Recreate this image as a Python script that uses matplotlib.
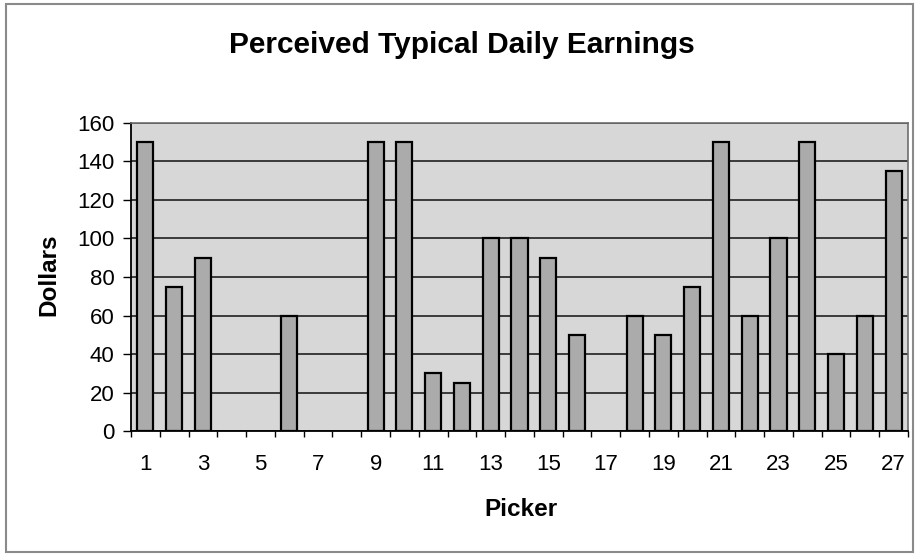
import numpy as np
import matplotlib.pyplot as plt

pickers = list(range(1, 28))
earnings = [150, 75, 90, 0, 0, 60, 0, 0, 150, 150, 30, 25, 100, 100, 90,
            50, 0, 60, 50, 75, 150, 60, 100, 150, 40, 60, 135]
xtick_labels = [str(p) for p in range(1, 28, 2)]


def main():
    plt.rcParams['font.family'] = ['Liberation Sans', 'DejaVu Sans']

    fig = plt.figure(figsize=(9.17, 5.54), dpi=100)
    fig.patch.set_facecolor('white')
    # outer chart border
    fig.add_artist(plt.Rectangle((0.006, 0.004), 0.99, 0.988, transform=fig.transFigure,
                                 fill=False, edgecolor='#8a8a8a', linewidth=1.5))

    ax = fig.add_axes([0.1429, 0.222, 0.8473, 0.556])
    ax.set_facecolor('#d7d7d7')

    # pickers with no answer get no bar at all
    x = np.array(pickers)
    y = np.array(earnings)
    keep = y > 0
    ax.bar(x[keep], y[keep], width=0.56, color='#ababab', edgecolor='black',
           linewidth=1.6, zorder=3)

    ax.set_xlim(0.5, 27.5)
    ax.set_ylim(0, 160)
    ax.set_yticks(range(0, 161, 20))
    ax.yaxis.grid(True, color='#3a3a3a', linewidth=1.4, zorder=1)
    ax.set_axisbelow(True)

    ax.set_xticks(range(1, 28, 2))
    ax.set_xticklabels(xtick_labels)
    ax.set_xticks(np.arange(0.5, 28, 1), minor=True)
    ax.tick_params(axis='x', which='major', length=0, pad=16.5, labelsize=16)
    ax.tick_params(axis='x', which='minor', length=4, width=1, direction='out')
    ax.tick_params(axis='y', length=6, width=1, pad=6, labelsize=16)

    for side in ['left', 'bottom']:
        ax.spines[side].set_color('black')
        ax.spines[side].set_linewidth(1.3)
    for side in ['top', 'right']:
        ax.spines[side].set_color('#6e6e6e')
        ax.spines[side].set_linewidth(1.2)

    ax.set_xlabel('Picker', fontsize=17.5, fontweight='bold')
    ax.xaxis.set_label_coords(0.502, -0.219)
    ax.set_ylabel('Dollars', fontsize=17.5, fontweight='bold')
    ax.yaxis.set_label_coords(-0.0914, 0.506)

    fig.text(0.504, 0.9043, 'Perceived Typical Daily Earnings', fontsize=21.5,
             fontweight='bold', ha='center', va='baseline')

    fig.savefig('out.png', dpi=100)


if __name__ == "__main__":
    main()
